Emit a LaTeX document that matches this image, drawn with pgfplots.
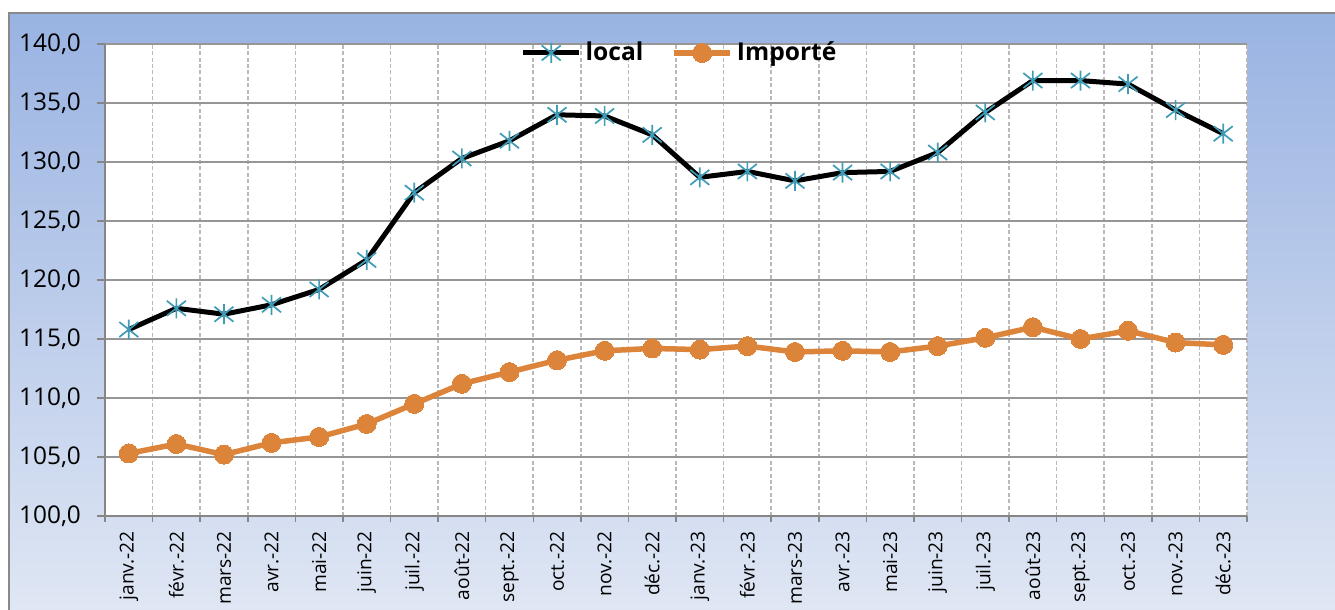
\documentclass[border=0pt]{standalone}
\usepackage{pgfplots}
\pgfplotsset{compat=1.18}
\usepackage{fontspec}
\setmainfont{Open Sans}
\definecolor{bgtop}{RGB}{153,179,226}
\definecolor{bgbot}{RGB}{224,231,244}
\definecolor{frameg}{RGB}{137,137,137}
\definecolor{orangeI}{RGB}{221,132,59}
\definecolor{tealS}{RGB}{62,156,182}
\definecolor{gridY}{RGB}{150,150,150}
\definecolor{gridX}{RGB}{185,185,185}
\definecolor{axisG}{RGB}{134,134,134}
\pgfdeclareplotmark{xlstar}{%
  \pgfpathmoveto{\pgfqpoint{0pt}{-\pgfplotmarksize}}\pgfpathlineto{\pgfqpoint{0pt}{\pgfplotmarksize}}%
  \pgfpathmoveto{\pgfqpoint{-0.95\pgfplotmarksize}{-0.75\pgfplotmarksize}}\pgfpathlineto{\pgfqpoint{0.95\pgfplotmarksize}{0.75\pgfplotmarksize}}%
  \pgfpathmoveto{\pgfqpoint{-0.95\pgfplotmarksize}{0.75\pgfplotmarksize}}\pgfpathlineto{\pgfqpoint{0.95\pgfplotmarksize}{-0.75\pgfplotmarksize}}%
  \pgfusepathqstroke}
\pgfplotstableread{
x local importe
0 115.8 105.3
1 117.6 106.1
2 117.1 105.2
3 117.9 106.2
4 119.2 106.7
5 121.7 107.8
6 127.4 109.5
7 130.3 111.2
8 131.8 112.2
9 134.0 113.2
10 133.9 114.0
11 132.3 114.2
12 128.7 114.1
13 129.2 114.4
14 128.4 113.9
15 129.1 114.0
16 129.2 113.9
17 130.8 114.4
18 134.2 115.1
19 136.9 116.0
20 136.9 115.0
21 136.6 115.7
22 134.4 114.7
23 132.4 114.5
}\datatab
\begin{document}
\begin{tikzpicture}
\useasboundingbox (0,0) rectangle (667.5pt,305pt);
\clip (0,0) rectangle (667.5pt,305pt);
\fill[white] (0,0) rectangle (667.5pt,305pt);
\shade[top color=bgtop, bottom color=bgbot] (4.5pt,-3pt) rectangle (680pt,298.5pt);
\draw[frameg, line width=0.75pt] (4.5pt,-3pt) -- (4.5pt,298.5pt) -- (680pt,298.5pt);
\begin{axis}[
  at={(52.5pt,47pt)}, anchor=south west,
  scale only axis, width=571pt, height=236pt,
  xmin=-0.5, xmax=23.5, ymin=100, ymax=140,
  axis background/.style={fill=white},
  axis lines*=left,
  axis line style={axisG, line width=0.75pt},
  ytick={100,105,...,140},
  xtick={0,...,23},
  xticklabels={janv.-22,févr.-22,mars-22,avr.-22,mai-22,juin-22,juil.-22,août-22,sept.-22,oct.-22,nov.-22,déc.-22,janv.-23,févr.-23,mars-23,avr.-23,mai-23,juin-23,juil.-23,août-23,sept.-23,oct.-23,nov.-23,déc.-23},
  minor xtick={-0.5,0.5,...,23.5},
  xminorgrids=true, ymajorgrids=true, xmajorgrids=false,
  minor x grid style={gridX, line width=0.8pt, dash pattern=on 2pt off 1.2pt},
  major y grid style={gridY, line width=0.75pt},
  tick align=outside,
  major tick length=4pt, minor tick length=3pt,
  major x tick style={draw=none},
  minor x tick style={axisG, line width=0.75pt},
  ytick style={axisG, line width=0.75pt},
  /pgf/number format/assume math mode=true,
  yticklabel={\pgfmathprintnumber[fixed,fixed zerofill,precision=1,use comma]{\tick}},
  yticklabel style={font=\fontsize{12.2}{14}\selectfont, text=black, xshift=-4.5pt},
  xticklabel style={font=\fontsize{9.6}{11}\selectfont, rotate=90, anchor=east, text=black},
  legend columns=2,
  legend style={draw=none, fill=none, at={(0.504,0.981)}, anchor=center,
     font=\bfseries\fontsize{12.3}{14}\selectfont, column sep=0pt,
     /tikz/every even column/.append style={column sep=12pt}},
  legend image code/.code={\draw[mark repeat=2,mark phase=2,#1] plot coordinates {(0pt,0pt) (14pt,0pt) (28pt,0pt)};},
]
\addplot[black, line width=2.5pt, mark=xlstar, mark size=5pt,
  mark options={tealS, line width=0.85pt}] table[x=x, y=local] {\datatab};
\addlegendentry{local}
\addplot[orangeI, line width=2.75pt, mark=*, mark size=4.75pt,
  mark options={fill=orangeI, draw=orangeI, line width=0pt}] table[x=x, y=importe] {\datatab};
\addlegendentry{Importé}
\end{axis}
\end{tikzpicture}
\end{document}
